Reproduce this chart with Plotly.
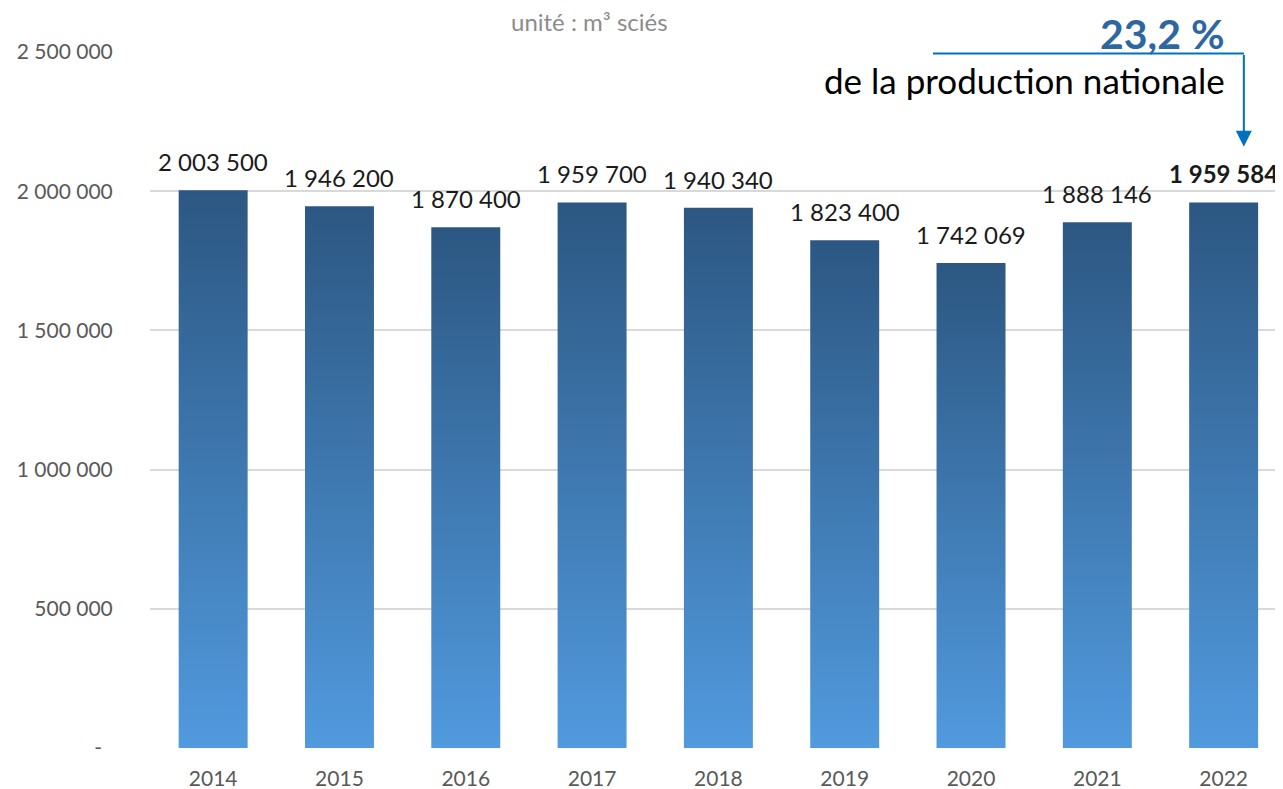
import plotly.graph_objects as go

# data (unit: m3 sawn)
years = ["2014", "2015", "2016", "2017", "2018", "2019", "2020", "2021", "2022"]
volumes = [2003500, 1946200, 1870400, 1959700, 1940340, 1823400, 1742069, 1888146, 1959584]
y_ticks = [0, 500000, 1000000, 1500000, 2000000, 2500000]
y_ticklabels = ["-\u00a0\u00a0", "500 000", "1 000 000", "1 500 000", "2 000 000", "2 500 000"]
share_text = "23,2 %"
share_sub = "de la production nationale"

FONT = "Lato"
half_w = 0.273
dark = "#2c5782"
light = "#519ade"


def fmt(v):
    return f"{v:,}".replace(",", " ")


fig = go.Figure()

# bars drawn as filled areas so each one can carry a vertical gradient
for i, v in enumerate(volumes):
    fig.add_trace(go.Scatter(
        x=[i - half_w, i - half_w, i + half_w, i + half_w, i - half_w],
        y=[0, v, v, 0, 0],
        mode="lines", line=dict(width=0), fill="toself",
        fillgradient=dict(type="vertical", colorscale=[[0, light], [1, dark]]),
        hoverinfo="skip", showlegend=False,
    ))

# value labels
for i, v in enumerate(volumes):
    txt = fmt(v)
    if i == len(volumes) - 1:
        txt = "<b>" + txt + "</b>"
    fig.add_annotation(x=i, y=v, text=txt, showarrow=False, yanchor="bottom", yshift=12,
                       font=dict(family=FONT, size=24, color="#1a1a1a"))

# unit caption
fig.add_annotation(xref="paper", yref="paper", x=0.388, y=1.044, yanchor="middle",
                   text="unité : m³ sciés", showarrow=False,
                   font=dict(family=FONT, size=24, color="#8c8c8c"))

# share callout
fig.add_annotation(xref="paper", yref="paper", x=0.951, y=1.026, xanchor="right", yanchor="middle",
                   text="<b>" + share_text + "</b>", showarrow=False,
                   font=dict(family=FONT, size=41, color="#2e67a0"))
fig.add_annotation(xref="paper", yref="paper", x=0.951, y=0.96, xanchor="right", yanchor="middle",
                   text=share_sub, showarrow=False,
                   font=dict(family=FONT, size=35, color="#000000"))
fig.add_shape(type="line", xref="paper", yref="y", x0=0.691, x1=0.9656, y0=2495000, y1=2495000,
              line=dict(color="#0070c0", width=2))
fig.add_annotation(x=8.16, y=2160000, ax=8.16, ay=2495000, axref="x", ayref="y",
                   text="", showarrow=True, arrowhead=2, arrowsize=1.6, arrowwidth=2,
                   arrowcolor="#0070c0")

fig.update_xaxes(
    range=[-0.5, 8.47], tickvals=list(range(len(years))), ticktext=years,
    showgrid=False, zeroline=False, showline=False, automargin=False,
    ticks="outside", ticklen=12, tickcolor="rgba(0,0,0,0)",
    tickfont=dict(family=FONT, size=21, color="#595959"),
)
fig.update_yaxes(
    range=[0, 2500000], tickvals=y_ticks, ticktext=y_ticklabels,
    showgrid=True, gridcolor="#d9d9d9", gridwidth=1.5, zeroline=False, automargin=False,
    ticks="outside", ticklen=32, tickcolor="rgba(0,0,0,0)",
    tickfont=dict(family=FONT, size=21, color="#595959"),
)
# the page body has an 8px margin, so the figure is sized to fit the window from there
fig.update_layout(
    width=1275, height=781,
    margin=dict(l=142, r=0, t=44, b=41),
    plot_bgcolor="white", paper_bgcolor="white",
    showlegend=False,
)

fig.write_html("out.html")
